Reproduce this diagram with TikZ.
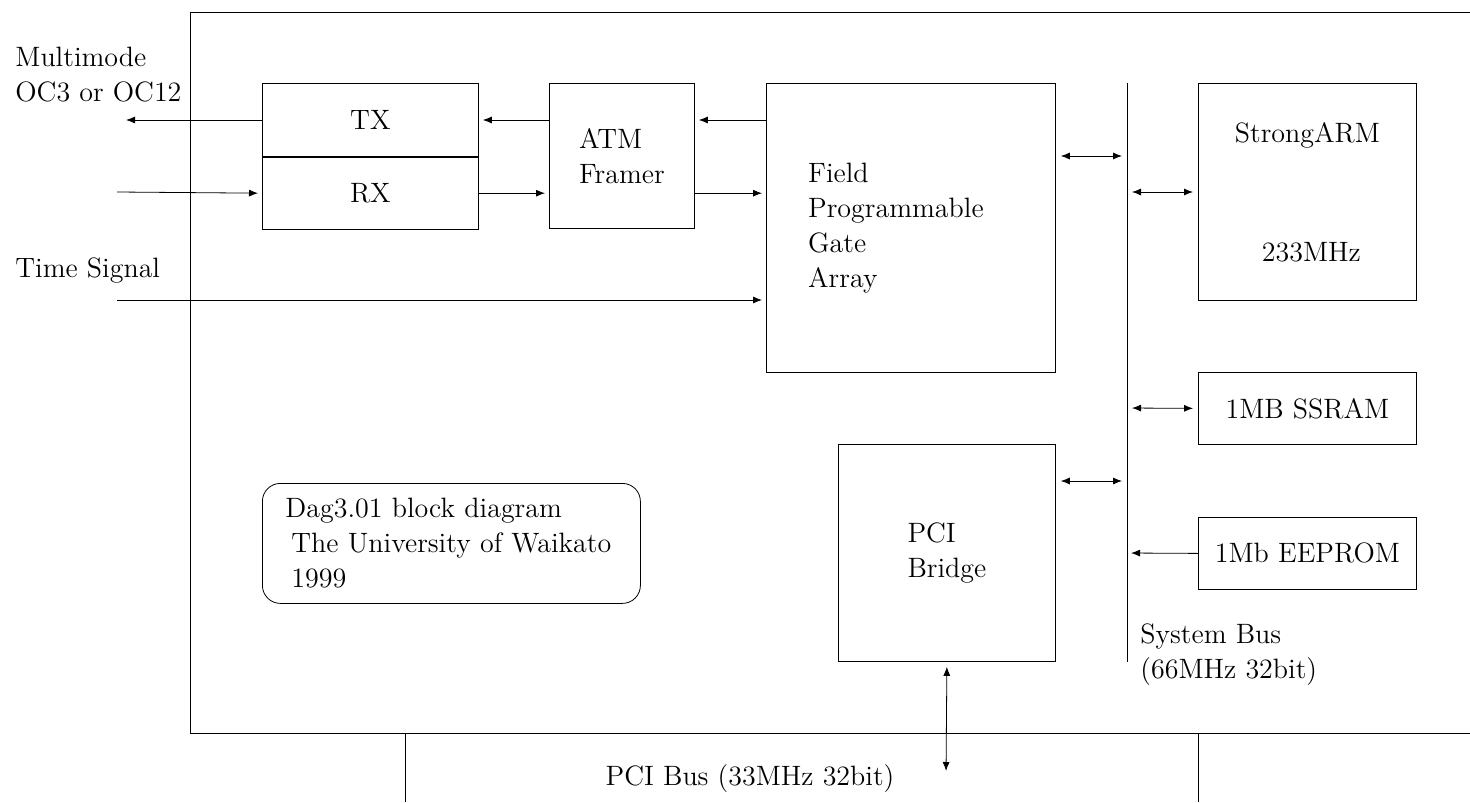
\documentclass[tikz,border=0pt]{standalone}
\usetikzlibrary{arrows.meta,positioning}
\tikzset{>={Latex[length=4.5pt,width=3.5pt]},line width=1.2pt,
  every node/.style={font=\fontsize{14}{17.5}\selectfont},
  unit/.style={draw,rectangle,inner sep=0pt,anchor=north west},
  memo/.style={draw,rounded corners=9pt,inner sep=0pt,anchor=north west},
  link/.style={->,shorten >=2pt},
  duplex/.style={<->,shorten >=2.5pt,shorten <=2.5pt},
  tag/.style={inner sep=0pt,align=left}}

\begin{document}
\begin{tikzpicture}[x=0.5pt,y=-0.5pt]
\useasboundingbox (0,0) rectangle (1470,802);
% board outline and PCI edge
\draw (190,733) -- (190,12) -- (1470,12);
\draw (190,733) -- (1470,733);
\draw (405,733) -- (405,802);
\draw (1198,733) -- (1198,802);
% blocks
\node[unit,minimum width=108pt,minimum height=36.5pt] (tx) at (262,83) {TX};
\node[unit,minimum width=108pt,minimum height=36pt,anchor=north west] (rx) at (tx.south west) {RX};
\node[unit,minimum width=72.5pt,minimum height=72.5pt,align=left] (atm) at (549,83) {ATM\\Framer};
\node[unit,minimum width=144.5pt,minimum height=144.5pt,align=left] (fpga) at (766,83) {Field\\Programmable\hspace*{15pt}\null\\Gate\\Array};
\node[unit,minimum width=108.5pt,minimum height=108.5pt,align=left] (pci) at (838,444) {PCI\\Bridge};
\node[unit,minimum width=109pt,minimum height=108.5pt,align=center] (arm) at (1198,83) {StrongARM\\[42pt]\hspace*{4pt}233MHz};
\node[unit,minimum width=109pt,minimum height=36pt] (sram) at (1198,372) {1MB SSRAM};
\node[unit,minimum width=109pt,minimum height=36pt] (eeprom) at (1198,517) {1Mb EEPROM};
\node[memo,minimum width=189pt,minimum height=60pt,align=left,text width=180pt] (note) at (262,483)
  {\hspace*{7pt}Dag3.01 block diagram\\\hspace*{10pt}The University of Waikato\\\hspace*{10pt}1999};
% outside labels
\node[tag,anchor=north west] (fibre) at (15,47) {Multimode\\OC3 or OC12};
\node[tag,anchor=north west] (timelbl) at (15,257) {Time Signal};
\node[tag,anchor=north west] (buslbl) at (1140,623) {System Bus\\(66MHz 32bit)};
\node[tag,anchor=north] (pcilbl) at (750,764) {PCI Bus (33MHz 32bit)};
% system bus
\coordinate (bustop) at (1127,83);
\coordinate (busbot) at (1127,662);
\draw (bustop) -- (busbot);
\coordinate (tap1) at (1127,156);
\coordinate (tap2) at (1127,192);
\coordinate (tap3) at (1127,408);
\coordinate (tap4) at (1127,481);
\coordinate (tap5) at (1127,553);
% data path
\coordinate (fibreout) at (122,120);
\coordinate (fibrein) at (117,192);
\coordinate (timein) at (117,300);
\coordinate (pciedge) at (946,776);
\draw[link] (tx.west |- fibreout) -- (fibreout);
\draw[link] (fibrein) -- (rx.west);
\draw[link] (atm.west |- fibreout) -- (tx.east |- fibreout);
\draw[link] (fpga.west |- fibreout) -- (atm.east |- fibreout);
\draw[link] (rx.east) -- (atm.west |- rx.east);
\draw[link] (atm.east |- rx.east) -- (fpga.west |- rx.east);
\draw[link] (timein) -- (fpga.west |- timein);
\draw[duplex] (fpga.east |- tap1) -- (tap1);
\draw[duplex] (tap2) -- (arm.west |- tap2);
\draw[duplex] (tap3) -- (sram.west);
\draw[duplex] (pci.east |- tap4) -- (tap4);
\draw[link] (eeprom.west) -- (tap5);
\draw[duplex] (pci.south) -- (pciedge);
\end{tikzpicture}
\end{document}
